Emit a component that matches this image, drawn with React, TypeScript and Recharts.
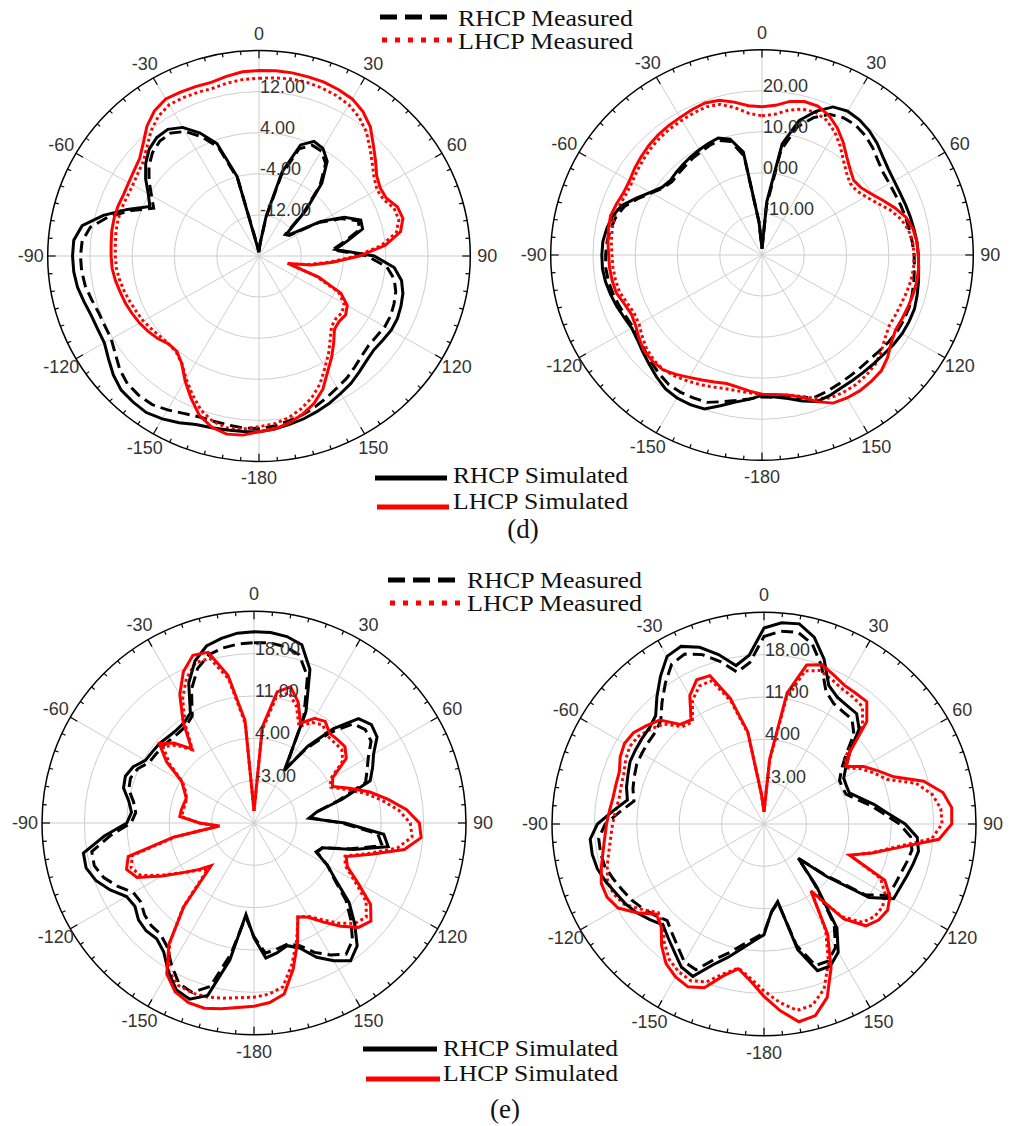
import React from "react";
import { RadarChart, Radar, PolarGrid, PolarAngleAxis, PolarRadiusAxis } from "recharts";

// angle categories, clockwise from the top (0) round to -5
const ANGLES = [
  0, 5, 10, 15, 20, 25, 30, 35, 40, 45, 50, 55, 60, 65, 70, 75, 80, 85, 90, 95,
  100, 105, 110, 115, 120, 125, 130, 135, 140, 145, 150, 155, 160, 165, 170, 175, 180,
  -175, -170, -165, -160, -155, -150, -145, -140, -135, -130, -125, -120, -115, -110,
  -105, -100, -95, -90, -85, -80, -75, -70, -65, -60, -55, -50, -45, -40, -35, -30,
  -25, -20, -15, -10, -5,
];

// (d) left
const D1_RHCP_MEAS = [
  -19, -17.5, -12.5, -3.8, 2.2, 3.8, 3.6, 2.0, -2.0, -8.0,
  -13.5, -13.0, -7.0, -2.8, 0.0, -0.3, -3.5, -6.0, 0.5, 4.3,
  6.0, 6.8, 7.2, 7.5, 7.5, 7.2, 7.1, 7.5, 8.2, 9.0,
  9.6, 10.4, 11.2, 12.0, 12.6, 13.2, 13.6,
  13.6, 13.4, 13.3, 13.3, 13.8, 14.6, 15.3, 15.4, 15.2, 14.4,
  13.2, 12.3, 12.2, 12.3, 12.8, 13.4, 13.7, 13.8, 13.6, 12.4,
  9.5, 5.8, 2.0, 3.5, 5.4, 7.2, 8.5, 9.2, 9.2, 8.0,
  5.6, 2.5, -4.5, -17.5, -19,
];
const D1_LHCP_MEAS = [
  14.6, 14.8, 15.0, 15.0, 14.8, 14.5, 14.0, 13.0, 11.6, 9.7,
  8.0, 6.6, 5.8, 6.0, 7.2, 7.4, 6.4, 3.2, -1.5, -6.5,
  -10.5, -14.0, -8.5, -3.4, -1.4, -0.8, -1.0, -0.6, 1.0, 3.0,
  5.0, 7.4, 9.3, 10.8, 12.0, 12.8, 13.2,
  13.8, 14.0, 13.4, 12.0, 9.8, 7.6, 5.5, 4.4, 4.2, 4.4,
  4.8, 5.3, 5.6, 6.0, 6.4, 6.8, 7.1, 7.2, 7.3, 7.5,
  7.6, 7.6, 7.5, 7.6, 8.0, 8.6, 10.0, 11.8, 13.2, 14.0,
  14.0, 13.9, 13.8, 14.2, 14.5,
];
const D1_RHCP_SIM = [
  -19, -17.5, -12, -3, 3.0, 4.6, 4.2, 2.5, -1.5, -7.5,
  -13, -12.5, -6.5, -2.2, 0.5, 0.3, -3.0, -5.5, 1.8, 5.7,
  7.4, 8.2, 8.6, 8.9, 8.9, 8.6, 8.4, 8.8, 9.5, 10.3,
  10.9, 11.6, 12.2, 12.8, 13.3, 13.8, 14.2,
  14.3, 14.4, 14.6, 14.9, 15.8, 16.6, 17.2, 17.1, 16.9, 16.0,
  14.8, 13.8, 13.7, 13.8, 14.3, 14.9, 15.2, 15.3, 15.2, 14.0,
  10.5, 6.5, 2.8, 4.2, 6.2, 8.0, 9.4, 10.1, 10.1, 8.9,
  6.4, 3.3, -4.0, -18, -19,
];
const D1_LHCP_SIM = [
  16.1, 16.2, 16.2, 16.1, 16.0, 15.7, 15.3, 14.3, 12.8, 10.6,
  8.8, 7.2, 6.5, 6.6, 7.9, 8.2, 7.2, 4.0, -1.0, -6.0,
  -10.0, -14.4, -8.0, -2.9, -0.7, 0.0, -0.2, 0.2, 2.0, 4.0,
  6.0, 8.6, 10.5, 11.9, 13.0, 13.8, 14.2,
  15.0, 15.2, 14.5, 13.0, 10.5, 8.0, 5.5, 4.2, 4.2, 5.0,
  5.6, 6.1, 6.5, 6.9, 7.2, 7.6, 7.9, 8.0, 8.1, 8.3,
  8.4, 8.4, 8.3, 8.5, 8.9, 9.5, 11.0, 13.0, 14.5, 15.3,
  15.2, 15.1, 15.0, 15.5, 16.0,
];

// (d) right
const D2_RHCP_MEAS = [
  -18.5, -8, 6.0, 12.3, 15.6, 17.8, 18.6, 18.6, 18.0, 17.0,
  15.8, 15.0, 14.8, 14.8, 15.0, 15.2, 15.4, 15.7, 16.0, 16.2,
  16.5, 16.8, 17.1, 17.1, 17.0, 16.7, 16.3, 16.0, 16.0, 16.1,
  16.3, 16.6, 16.8, 16.0, 15.2, 14.8, 14.6,
  15.2, 16.0, 17.0, 18.2, 18.4, 18.6, 18.5, 17.8, 17.0, 16.2,
  15.5, 15.2, 15.5, 16.0, 16.5, 16.9, 17.1, 17.0, 16.8, 16.4,
  15.8, 14.6, 12.4, 10.2, 8.5, 7.8, 8.0, 8.3, 8.7, 9.0,
  9.4, 9.7, 8.6, 4.5, -12,
];
const D2_LHCP_MEAS = [
  13.9, 14.4, 15.8, 16.8, 17.0, 16.2, 14.5, 12.3, 10.0, 8.3,
  7.2, 7.3, 8.4, 10.0, 12.2, 14.0, 15.2, 15.8, 16.0, 16.0,
  15.8, 15.4, 15.0, 14.8, 14.7, 15.5, 16.8, 17.8, 18.3, 18.6,
  18.6, 18.4, 17.2, 15.6, 14.7, 14.3, 14.0,
  13.7, 13.6, 13.7, 14.2, 14.8, 15.4, 16.0, 16.4, 16.2, 15.6,
  14.6, 13.6, 13.4, 14.0, 14.9, 15.2, 15.4, 15.5, 15.8, 16.0,
  16.2, 15.8, 15.4, 15.5, 16.0, 16.5, 17.0, 17.4, 17.7, 17.9,
  18.2, 18.4, 18.0, 16.4, 14.6,
];
const D2_RHCP_SIM = [
  -18.5, -7, 7.5, 13.9, 17.2, 19.8, 20.5, 20.2, 19.5, 18.5,
  17.3, 16.5, 16.1, 16.0, 16.1, 16.3, 16.5, 16.8, 17.0, 17.2,
  17.6, 18.0, 18.4, 18.4, 18.3, 18.0, 17.6, 17.4, 17.3, 17.3,
  17.4, 17.8, 18.0, 16.8, 15.5, 14.7, 14.2,
  15.3, 16.4, 18.0, 19.9, 20.2, 20.2, 19.8, 18.8, 17.7, 16.8,
  16.0, 15.6, 16.0, 16.6, 17.1, 17.6, 17.9, 17.9, 17.8, 17.3,
  16.6, 15.3, 12.8, 10.5, 8.8, 8.3, 8.6, 8.9, 9.3, 9.6,
  10.0, 10.3, 9.2, 5.5, -12,
];
const D2_LHCP_SIM = [
  16.1, 16.6, 18.0, 18.7, 18.6, 17.5, 15.7, 13.5, 11.2, 9.5,
  8.3, 8.6, 9.8, 11.5, 13.5, 15.3, 16.3, 16.8, 17.0, 17.2,
  17.2, 17.0, 16.8, 16.6, 16.5, 17.3, 18.8, 19.9, 20.2, 20.4,
  20.2, 19.8, 18.0, 15.8, 14.6, 14.1, 13.9,
  13.3, 12.7, 12.4, 12.9, 13.6, 14.4, 15.5, 16.5, 16.6, 16.4,
  15.5, 14.5, 14.1, 14.7, 15.7, 16.0, 16.2, 16.3, 16.6, 16.9,
  17.1, 16.6, 16.1, 16.2, 16.8, 17.3, 17.8, 18.2, 18.5, 18.7,
  19.1, 19.4, 19.0, 17.8, 16.5,
];

// (e) left
const E1_RHCP_MEAS = [
  19.8, 19.9, 19.6, 18.8, 15.8, 9.5, 0.5, 5.0, 9.5, 13.2,
  14.0, 13.6, 11.8, 10.6, 9.6, 4.5, 0.5, -0.5, 4.5, 10.5,
  11.5, 6.5, 2.0, 1.5, 4.0, 6.2, 9.8, 12.6, 15.3, 16.5,
  15.2, 13.6, 11.5, 10.8, 11.2, 11.6, 8.8,
  5.6, 12.0, 18.0, 19.8, 19.3, 17.2, 15.0, 14.0, 14.0, 13.6,
  12.8, 13.0, 14.8, 16.4, 17.3, 17.2, 13.8, 10.3, 9.6, 10.2,
  11.4, 11.7, 11.2, 10.0, 9.8, 9.7, 9.5, 9.4, 9.6, 10.4,
  14.4, 17.2, 18.8, 19.4, 19.7,
];
const E1_LHCP_MEAS = [
  -8, 5.5, 11.0, 12.3, 10.5, 7.6, 9.2, 9.8, 8.8, 8.8,
  8.9, 7.9, 4.6, 4.0, 6.2, 9.0, 11.5, 14.0, 15.8, 16.2,
  14.0, 9.5, 6.0, 6.6, 9.2, 12.6, 14.2, 13.5, 11.6, 9.5,
  7.8, 7.2, 10.6, 14.2, 17.5, 18.4, 18.8,
  19.0, 19.4, 19.8, 19.9, 19.6, 18.2, 14.3, 8.2, 0.8, 2.2,
  4.3, 7.2, 10.6, 11.6, 10.8, 3.2, -4.0, -1.0, 2.0, 1.9,
  1.8, 1.8, 2.5, 3.6, 7.0, 9.6, 8.2, 5.8, 9.8, 13.6,
  16.4, 18.2, 18.2, 14.2, 6.5,
];
const E1_RHCP_SIM = [
  21.6, 21.6, 21.3, 20.5, 17.0, 10.3, 0.0, 5.5, 10.3, 14.4,
  15.3, 14.8, 12.8, 11.6, 10.4, 5.0, 0.5, -0.9, 5.0, 11.5,
  12.5, 7.0, 2.0, 1.3, 4.0, 6.5, 10.5, 13.5, 16.5, 17.8,
  16.3, 14.5, 12.0, 11.0, 11.8, 12.4, 9.0,
  5.2, 13.0, 19.5, 21.0, 20.4, 18.3, 16.0, 15.0, 15.2, 14.9,
  14.0, 14.3, 16.2, 17.8, 18.7, 18.6, 14.8, 11.0, 10.3, 11.0,
  12.3, 12.6, 12.0, 10.7, 10.5, 10.4, 10.1, 10.0, 10.2, 11.0,
  15.5, 18.5, 20.3, 21.0, 21.5,
];
const E1_LHCP_SIM = [
  -8, 6.0, 12.0, 13.3, 11.3, 8.2, 10.0, 10.5, 9.4, 9.5,
  9.6, 8.6, 5.0, 4.3, 6.8, 9.8, 12.5, 15.3, 17.3, 17.7,
  15.2, 10.0, 6.2, 7.0, 9.8, 13.5, 15.2, 14.4, 12.3, 10.0,
  8.0, 7.1, 11.0, 15.0, 18.7, 19.8, 20.3,
  20.6, 21.2, 21.7, 21.6, 20.8, 18.8, 14.5, 8.0, 0.0, 2.0,
  4.3, 7.5, 11.3, 12.4, 11.5, 3.5, -4.3, -1.0, 2.3, 2.2,
  2.0, 1.9, 2.7, 3.8, 7.6, 10.4, 8.7, 6.0, 10.4, 14.5,
  17.6, 19.5, 19.2, 14.8, 7.0,
];

// (e) right
const E2_RHCP_MEAS = [
  21.0, 22.0, 22.2, 20.8, 17.8, 14.2, 13.0, 12.7, 12.6, 11.0,
  7.6, 5.6, 4.4, 4.3, 4.4, 5.8, 7.8, 9.8, 12.4, 14.3,
  14.8, 14.4, 14.0, 13.8, 13.6, 10.4, 3.0, -2.0, 3.0, 10.2,
  13.6, 15.0, 14.9, 10.8, 3.2, 4.6, 8.0,
  9.0, 10.3, 12.0, 13.8, 16.6, 16.3, 14.8, 13.6, 12.6, 13.5,
  14.4, 15.2, 15.8, 16.5, 17.2, 17.4, 17.4, 16.2, 13.8, 11.8,
  12.4, 12.8, 13.2, 13.3, 13.4, 13.5, 14.1, 16.2, 18.4, 20.5,
  21.0, 19.8, 17.8, 15.5, 16.8,
];
const E2_LHCP_MEAS = [
  -8, 0.5, 11.0, 16.2, 17.0, 16.4, 15.8, 15.6, 15.3, 13.0,
  7.8, 6.2, 8.3, 10.0, 11.6, 16.0, 18.2, 19.3, 19.4, 17.8,
  12.0, 8.4, 5.2, 11.2, 13.1, 13.9, 13.8, 13.0, 10.0, 3.8,
  10.4, 15.2, 19.0, 21.0, 21.3, 19.6, 17.6,
  15.6, 14.2, 15.6, 17.8, 18.6, 18.2, 17.3, 15.6, 13.6, 12.8,
  14.6, 16.6, 17.4, 17.5, 16.8, 16.0, 15.4, 15.0, 14.6, 14.3,
  14.4, 14.6, 15.2, 15.6, 15.3, 14.4, 13.4, 11.0, 10.6, 13.6,
  15.2, 15.2, 11.0, 5.2, -5.0,
];
const E2_RHCP_SIM = [
  22.4, 23.4, 23.6, 22.0, 19.0, 15.3, 14.2, 13.9, 13.8, 12.2,
  8.5, 6.5, 5.2, 5.0, 5.0, 6.5, 8.5, 10.5, 13.3, 15.4,
  15.9, 15.5, 15.1, 14.8, 14.7, 11.2, 3.5, -2.0, 3.5, 11.0,
  14.5, 15.9, 15.8, 11.5, 3.0, 4.5, 8.3,
  9.4, 10.9, 12.8, 14.8, 17.8, 17.3, 15.8, 14.6, 13.6, 14.6,
  15.6, 16.4, 17.0, 17.8, 18.5, 18.8, 18.8, 17.5, 15.0, 12.9,
  13.5, 13.9, 14.4, 14.5, 14.6, 14.7, 15.3, 17.5, 19.8, 22.0,
  22.4, 21.1, 19.0, 16.6, 18.0,
];
const E2_LHCP_SIM = [
  -8, 0.8, 12.0, 17.2, 18.0, 17.2, 16.5, 16.4, 16.4, 14.0,
  8.5, 6.6, 9.0, 10.8, 12.8, 17.3, 20.0, 21.1, 21.0, 19.0,
  12.5, 8.5, 5.0, 12.0, 14.0, 14.9, 14.7, 13.8, 10.5, 3.5,
  11.0, 16.2, 20.5, 22.8, 23.2, 21.0, 18.5,
  16.0, 14.3, 16.0, 18.8, 19.7, 19.2, 18.2, 16.3, 14.0, 13.2,
  15.6, 17.8, 18.6, 18.6, 17.8, 17.0, 16.4, 16.0, 15.6, 15.3,
  15.3, 15.4, 16.2, 16.6, 16.3, 15.3, 14.3, 11.5, 11.0, 14.5,
  16.3, 16.1, 11.5, 5.5, -5.0,
];

const D1_DOMAIN = [-20, 20];
const D1_TICKS = [-12, -4, 4, 12];
const D2_DOMAIN = [-20, 30];
const D2_TICKS = [-10, 0, 10, 20];
const E_DOMAIN = [-10, 25];
const E_TICKS = [-3, 4, 11, 18];

const SPOKES = [90, 60, 30, 0, -30, -60, -90, -120, -150, -180, -210, -240];

const SIZE = 520;
const C = SIZE / 2;
const SANS = "'Liberation Sans', Arial, sans-serif";
const SERIF = "'Liberation Serif', 'Times New Roman', serif";

type PlotProps = {
  x: number;
  y: number;
  rx: number;
  ry: number;
  domain: number[];
  ticks: number[];
  rhcpMeas: number[];
  lhcpMeas: number[];
  rhcpSim: number[];
  lhcpSim: number[];
};

function PolarPlot({ x, y, rx, ry, domain, ticks, rhcpMeas, lhcpMeas, rhcpSim, lhcpSim }: PlotProps) {
  const data = ANGLES.map((a, i) => ({
    angle: a,
    rm: rhcpMeas[i],
    lm: lhcpMeas[i],
    rs: rhcpSim[i],
    ls: lhcpSim[i],
  }));

  const angleTick = (props: any) => {
    const { payload } = props;
    const rad = (payload.coordinate * Math.PI) / 180;
    const ux = Math.cos(rad);
    const uy = -Math.sin(rad);
    const v = Number(payload.value);
    const major = v % 30 === 0;
    const len = major ? 8 : 4;
    return (
      <g>
        <line
          x1={C + ux * rx}
          y1={C + uy * rx}
          x2={C + ux * (rx - len)}
          y2={C + uy * (rx - len)}
          stroke="#000"
          strokeWidth={1.2}
        />
        {major && (
          <text
            x={C + ux * (rx + 17)}
            y={C + uy * (rx + 17)}
            textAnchor="middle"
            dominantBaseline="central"
            fontSize={18}
            fontFamily={SANS}
            fill="#333"
          >
            {v === 180 ? -180 : v}
          </text>
        )}
      </g>
    );
  };

  const radiusTick = (props: any) => (
    <text x={props.x + 1} y={props.y + 1} textAnchor="start" fontSize={18} fontFamily={SANS} fill="#333">
      {Number(props.payload.value).toFixed(2)}
    </text>
  );

  return (
    <div
      style={{
        position: "absolute",
        left: x - C,
        top: y - C,
        width: SIZE,
        height: SIZE,
        transform: `scaleY(${ry / rx})`,
        transformOrigin: `${C}px ${C}px`,
      }}
    >
      <RadarChart
        width={SIZE}
        height={SIZE}
        data={data}
        cx={C}
        cy={C}
        outerRadius={rx}
        startAngle={90}
        endAngle={-270}
        margin={{ top: 0, right: 0, bottom: 0, left: 0 }}
      >
        <PolarGrid gridType="circle" polarAngles={SPOKES} stroke="#cdcdcd" strokeWidth={1} />
        <PolarAngleAxis
          dataKey="angle"
          type="category"
          axisLineType="circle"
          axisLine={{ stroke: "#000", strokeWidth: 1.5 }}
          tickLine={false}
          tick={angleTick}
        />
        <PolarRadiusAxis
          angle={90}
          type="number"
          domain={domain}
          ticks={ticks}
          allowDataOverflow
          axisLine={false}
          tick={radiusTick}
        />
        <Radar dataKey="rm" stroke="#000" strokeWidth={3} strokeDasharray="12 6" fill="none" fillOpacity={0} dot={false} isAnimationActive={false} />
        <Radar dataKey="lm" stroke="#ff0000" strokeWidth={3} strokeDasharray="3 3" fill="none" fillOpacity={0} dot={false} isAnimationActive={false} />
        <Radar dataKey="rs" stroke="#000" strokeWidth={3} fill="none" fillOpacity={0} dot={false} isAnimationActive={false} />
        <Radar dataKey="ls" stroke="#ff0000" strokeWidth={3} fill="none" fillOpacity={0} dot={false} isAnimationActive={false} />
      </RadarChart>
    </div>
  );
}

function LegendRow({ x1, x2, y, text, color, dash, tx, ty }: any) {
  return (
    <g>
      <line x1={x1} x2={x2} y1={y} y2={y} stroke={color} strokeWidth={5} strokeDasharray={dash} />
      <text x={tx} y={ty} fontSize={24} fontFamily={SERIF} fill="#111" textLength={175} lengthAdjust="spacingAndGlyphs">
        {text}
      </text>
    </g>
  );
}

export default function App() {
  return (
    <div style={{ position: "absolute", left: 0, top: 0, width: 1010, height: 1126, background: "#fff", overflow: "hidden" }}>
      <PolarPlot x={258.7} y={256.2} rx={211.3} ry={205.5} domain={D1_DOMAIN} ticks={D1_TICKS}
        rhcpMeas={D1_RHCP_MEAS} lhcpMeas={D1_LHCP_MEAS} rhcpSim={D1_RHCP_SIM} lhcpSim={D1_LHCP_SIM} />
      <PolarPlot x={762} y={255.3} rx={211.3} ry={205.3} domain={D2_DOMAIN} ticks={D2_TICKS}
        rhcpMeas={D2_RHCP_MEAS} lhcpMeas={D2_LHCP_MEAS} rhcpSim={D2_RHCP_SIM} lhcpSim={D2_LHCP_SIM} />
      <PolarPlot x={254.3} y={823.3} rx={212} ry={211.7} domain={E_DOMAIN} ticks={E_TICKS}
        rhcpMeas={E1_RHCP_MEAS} lhcpMeas={E1_LHCP_MEAS} rhcpSim={E1_RHCP_SIM} lhcpSim={E1_LHCP_SIM} />
      <PolarPlot x={764.3} y={823.5} rx={212} ry={211.7} domain={E_DOMAIN} ticks={E_TICKS}
        rhcpMeas={E2_RHCP_MEAS} lhcpMeas={E2_LHCP_MEAS} rhcpSim={E2_RHCP_SIM} lhcpSim={E2_LHCP_SIM} />

      <svg width={1010} height={1126} style={{ position: "absolute", left: 0, top: 0, pointerEvents: "none" }}>
        <LegendRow x1={380} x2={452} y={17} color="#000" dash="17 8" text="RHCP Measured" tx={458} ty={26} />
        <LegendRow x1={382} x2={452} y={40} color="#ff0000" dash="5 8" text="LHCP Measured" tx={458} ty={49} />
        <LegendRow x1={375} x2={447} y={478} color="#000" text="RHCP Simulated" tx={453} ty={483} />
        <LegendRow x1={377} x2={449} y={507} color="#ff0000" text="LHCP Simulated" tx={453} ty={509} />
        <text x={523} y={538} textAnchor="middle" fontSize={27} fontFamily={SERIF} fill="#111">(d)</text>

        <LegendRow x1={388} x2={460} y={580} color="#000" dash="17 8" text="RHCP Measured" tx={467} ty={588} />
        <LegendRow x1={390} x2={460} y={603} color="#ff0000" dash="5 8" text="LHCP Measured" tx={467} ty={611} />
        <LegendRow x1={363} x2={437} y={1049} color="#000" text="RHCP Simulated" tx={443} ty={1056} />
        <LegendRow x1={366} x2={440} y={1079} color="#ff0000" text="LHCP Simulated" tx={443} ty={1081} />
        <text x={505} y={1118} textAnchor="middle" fontSize={27} fontFamily={SERIF} fill="#111">(e)</text>
      </svg>
    </div>
  );
}
